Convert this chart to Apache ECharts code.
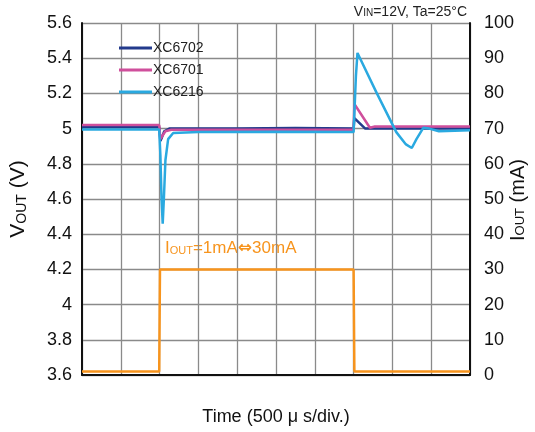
<!DOCTYPE html>
<html><head><meta charset="utf-8">
<script src="https://cdn.jsdelivr.net/npm/echarts@6/dist/echarts.min.js"></script>
<style>html,body{margin:0;padding:0;background:#fff}#c{width:535px;height:432px}</style>
</head><body><div id="c"></div>
<script>
var vTicks = [3.6,3.8,4,4.2,4.4,4.6,4.8,5,5.2,5.4,5.6];
var iTicks = [0,10,20,30,40,50,60,70,80,90,100];
var seriesNames = ['XC6702','XC6701','XC6216'];
var xc6702 = [[0,5.01],[1.99,5.01],[2.02,4.93],[2.06,4.95],[2.12,4.985],[2.25,5.0],[4,5.0],[5.5,5.003],[7,5.0],[7.02,5.06],[7.3,5.0],[8.5,5.0],[10,5.0]];
var xc6701 = [[0,5.02],[1.99,5.02],[2.02,4.94],[2.06,4.955],[2.15,4.985],[2.3,4.993],[7,4.993],[7.02,5.14],[7.42,5.005],[7.55,5.012],[10,5.012]];
var xc6216 = [[0,4.995],[1.99,4.995],[2.02,4.85],[2.05,4.6],[2.08,4.46],[2.11,4.6],[2.15,4.82],[2.22,4.94],[2.35,4.975],[3,4.98],[5,4.982],[7,4.98],[7.02,4.98],[7.06,5.3],[7.1,5.43],[7.6,5.2],[8.1,4.98],[8.35,4.91],[8.5,4.89],[8.62,4.94],[8.8,5.005],[8.95,5.0],[9.2,4.985],[10,4.99]];
var iout = [[0,1],[1.99,1],[2.01,30],[7,30],[7.02,1],[10,1]];
var colors = ['#233a8c','#cf4f9c','#2aa9e0'];
var orange = '#f7941d';

var chart = echarts.init(document.getElementById('c'));
var gridLine = {show:true,lineStyle:{color:'#8a8a8a',width:1.3}};
chart.setOption({
  animation:false,
  grid:{left:82,right:65,top:23,bottom:57,outerBoundsMode:'none',containLabel:false},
  legend:{orient:'vertical',left:114,top:36,itemWidth:33,itemHeight:3,itemGap:8,icon:'rect',
    textStyle:{fontFamily:'Liberation Sans',fontSize:14,color:'#222',padding:[0,0,0,-4]},
    data:seriesNames},
  xAxis:{type:'value',min:0,max:10,interval:1,
    axisLine:{show:true,onZero:false,lineStyle:{color:'#111',width:2}},
    axisTick:{show:false},axisLabel:{show:false},splitLine:gridLine,
    name:'Time (500 \u03bc s/div.)',nameLocation:'middle',nameGap:33,
    nameTextStyle:{fontFamily:'Liberation Sans',fontSize:18,color:'#111'}},
  yAxis:[
    {type:'value',min:3.6,max:5.6,interval:0.2,position:'left',
     axisLine:{show:true,lineStyle:{color:'#111',width:2}},axisTick:{show:false},
     splitLine:gridLine,
     axisLabel:{fontFamily:'Liberation Sans',fontSize:18,color:'#111',margin:10,
       formatter:function(v){return String(Math.round(v*10)/10);}},
     name:'{a|V}{b|OUT}{a| (V)}',nameLocation:'middle',nameGap:53,nameRotate:90,
     nameTextStyle:{rich:{a:{fontFamily:'Liberation Sans',fontSize:21,color:'#111'},b:{fontFamily:'Liberation Sans',fontSize:14,color:'#111',verticalAlign:'bottom',padding:[4,0,0,0]}}}},
    {type:'value',min:0,max:100,interval:10,position:'right',
     axisLine:{show:true,lineStyle:{color:'#111',width:2}},axisTick:{show:false},
     splitLine:{show:false},
     axisLabel:{fontFamily:'Liberation Sans',fontSize:18,color:'#111',margin:14}}
  ],
  graphic:[
    {type:'text',right:68,top:5,style:{rich:{a:{fontFamily:'Liberation Sans',fontSize:14,fill:'#222'},b:{fontFamily:'Liberation Sans',fontSize:10,fill:'#222',padding:[3,0,0,0]}},text:'{a|V}{b|IN}{a|=12V, Ta=25\u00b0C}'}},
    {type:'text',left:165,top:240,style:{rich:{a:{fontFamily:'Liberation Sans',fontSize:17,fill:orange},b:{fontFamily:'Liberation Sans',fontSize:11,fill:orange,padding:[4,0,0,0]},c:{fontFamily:'DejaVu Sans',fontSize:17,fill:orange,fontWeight:'bold'}},text:'{a|I}{b|OUT}{a|=1mA}{c|\u21d4}{a|30mA}'}},
    {type:'text',x:518,y:200,rotation:Math.PI/2,style:{align:'center',verticalAlign:'middle',rich:{a:{fontFamily:'Liberation Sans',fontSize:20,fill:'#111'},b:{fontFamily:'Liberation Sans',fontSize:13,fill:'#111',padding:[5,0,0,0]}},text:'{a|I}{b|OUT}{a| (mA)}'}}
  ],
  series:[
    {name:'XC6702',type:'line',data:xc6702,symbol:'none',lineStyle:{color:colors[0],width:2.5},itemStyle:{color:colors[0]},yAxisIndex:0},
    {name:'XC6701',type:'line',data:xc6701,symbol:'none',lineStyle:{color:colors[1],width:2.5},itemStyle:{color:colors[1]},yAxisIndex:0},
    {name:'XC6216',type:'line',data:xc6216,symbol:'none',lineStyle:{color:colors[2],width:2.5},itemStyle:{color:colors[2]},yAxisIndex:0},
    {name:'IOUT',type:'line',data:iout,symbol:'none',lineStyle:{color:orange,width:2.5},itemStyle:{color:orange},yAxisIndex:1}
  ]
});
</script></body></html>
